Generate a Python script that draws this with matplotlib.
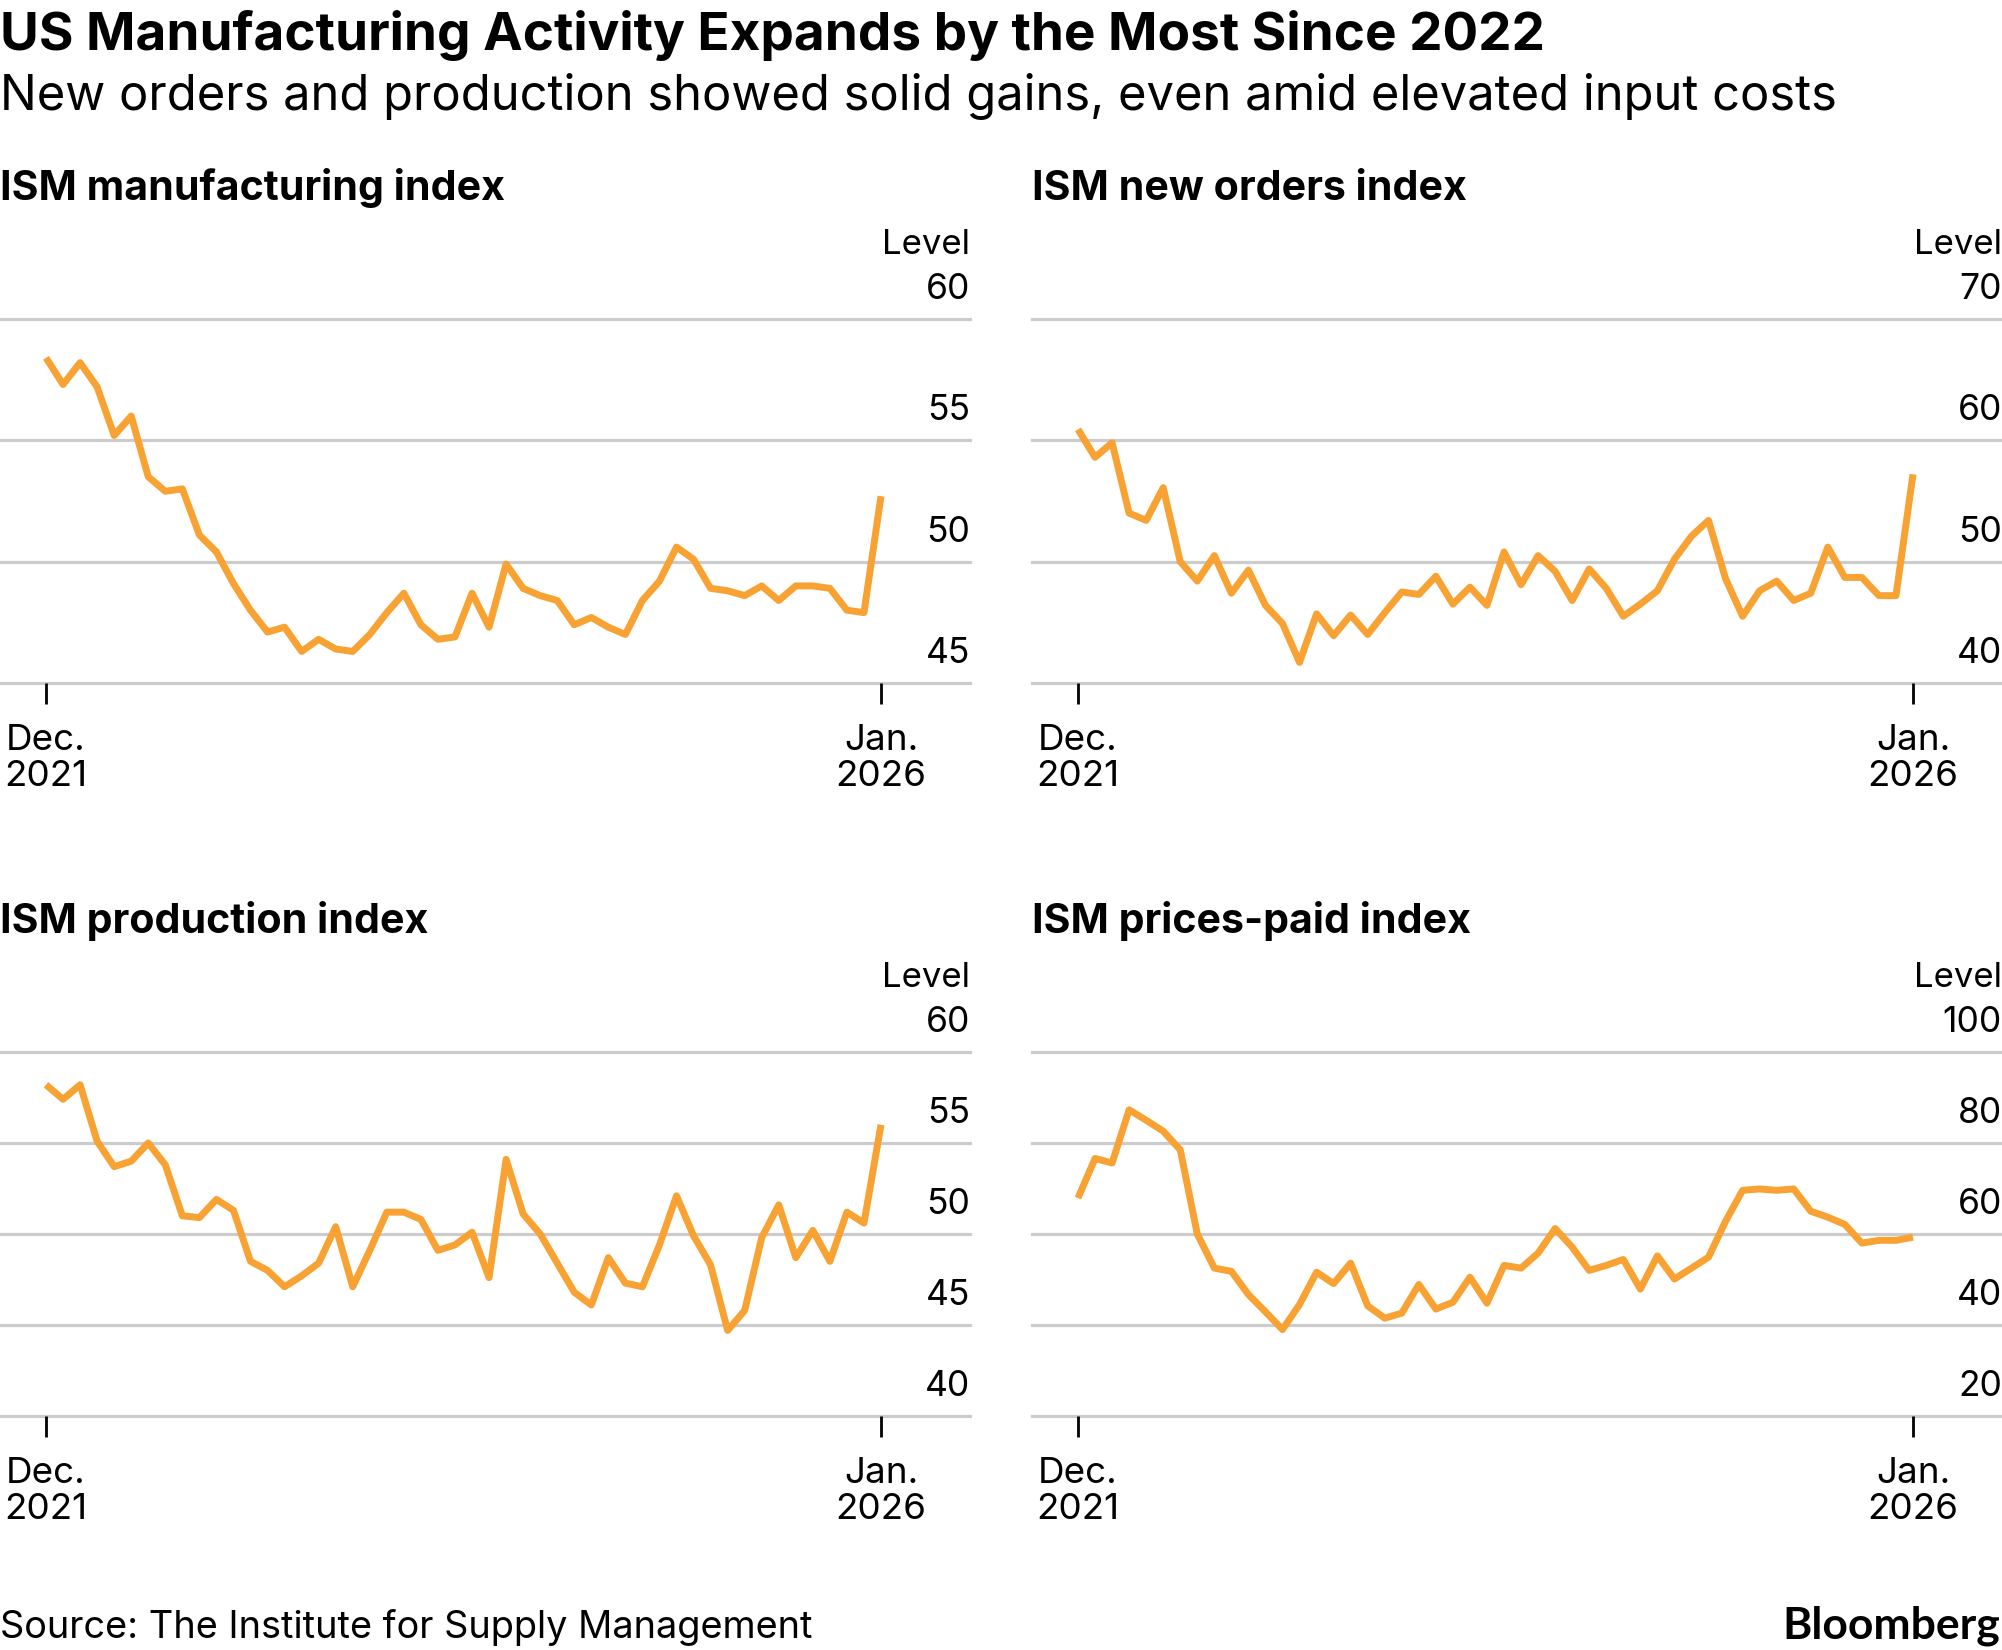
import matplotlib
matplotlib.use("Agg")
import matplotlib.pyplot as plt
import pandas as pd

# ---------------- data ----------------
months = pd.date_range("2021-12-01", "2026-01-01", freq="MS")

manufacturing = [58.4, 57.3, 58.2, 57.2, 55.2, 56.0, 53.5, 52.9, 53.0, 51.1,
                 50.4, 49.1, 48.0, 47.1, 47.3, 46.3, 46.8, 46.4, 46.3, 47.0,
                 47.9, 48.7, 47.4, 46.8, 46.9, 48.7, 47.3, 49.9, 48.9, 48.6,
                 48.4, 47.4, 47.7, 47.3, 47.0, 48.4, 49.2, 50.6, 50.1, 48.9,
                 48.8, 48.6, 49.0, 48.4, 49.0, 49.0, 48.9, 48.0, 47.9, 52.7]

new_orders = [60.9, 58.6, 59.8, 54.0, 53.4, 56.1, 50.0, 48.4, 50.5, 47.4,
              49.3, 46.4, 44.9, 41.7, 45.7, 43.9, 45.6, 44.0, 45.8, 47.5,
              47.3, 48.8, 46.5, 47.9, 46.4, 50.8, 48.1, 50.5, 49.2, 46.8,
              49.4, 47.8, 45.5, 46.5, 47.6, 50.2, 52.1, 53.4, 48.6, 45.5,
              47.6, 48.4, 46.8, 47.4, 51.2, 48.7, 48.7, 47.2, 47.2, 57.2]

production = [58.2, 57.4, 58.2, 55.1, 53.7, 54.0, 55.0, 53.8, 51.0, 50.9,
              51.9, 51.3, 48.5, 48.0, 47.1, 47.7, 48.4, 50.4, 47.1, 49.1,
              51.2, 51.2, 50.8, 49.1, 49.4, 50.1, 47.6, 54.1, 51.1, 50.0,
              48.4, 46.8, 46.1, 48.7, 47.3, 47.1, 49.4, 52.1, 49.9, 48.3,
              44.7, 45.8, 49.8, 51.6, 48.7, 50.2, 48.5, 51.2, 50.6, 56.0]

prices_paid = [67.9, 76.6, 75.6, 87.3, 85.0, 82.6, 78.5, 60.0, 52.5, 51.8,
               46.7, 42.9, 39.0, 44.5, 51.6, 49.1, 53.6, 44.2, 41.5, 42.6,
               48.9, 43.5, 45.0, 50.5, 44.8, 53.1, 52.5, 55.8, 61.2, 57.1,
               52.0, 53.1, 54.4, 47.9, 55.2, 50.1, 52.5, 54.9, 62.8, 69.6,
               69.9, 69.6, 69.9, 65.0, 63.7, 62.1, 58.0, 58.6, 58.6, 59.3]

mfg_ticks = [45, 50, 55, 60]
orders_ticks = [40, 50, 60, 70]
prod_ticks = [40, 45, 50, 55, 60]
prices_ticks = [20, 40, 60, 80, 100]

panel_titles = ["ISM manufacturing index", "ISM new orders index",
                "ISM production index", "ISM prices-paid index"]
x_tick_labels = ["Dec.\n2021", "Jan.\n2026"]
y_unit = "Level"

title = "US Manufacturing Activity Expands by the Most Since 2022"
subtitle = "New orders and production showed solid gains, even amid elevated input costs"
source = "Source: The Institute for Supply Management"
brand = "Bloomberg"

# ---------------- style ----------------
W, H = 2002, 1650
FONT = "Inter"
LINE_COLOR = "#F7A233"
GRID_COLOR = "#CCCCCC"

plt.rcParams["font.family"] = [FONT, "DejaVu Sans"]

fig = plt.figure(figsize=(W / 100, H / 100), dpi=100)

def fx(px):
    return px / W

def fy(px_from_top):
    return 1 - px_from_top / H

fig.text(fx(0), fy(50), title, fontsize=38.2, fontweight="bold", ha="left", va="baseline")
fig.text(fx(0), fy(110), subtitle, fontsize=35.2, ha="left", va="baseline")

panels = [
    (panel_titles[0], manufacturing, mfg_ticks, 0, 319),
    (panel_titles[1], new_orders, orders_ticks, 1032, 319),
    (panel_titles[2], production, prod_ticks, 0, 1052),
    (panel_titles[3], prices_paid, prices_ticks, 1032, 1052),
]

AX_W = 970
AX_H = 364
DATA_LEFT = 46
DATA_SPAN = 835
n = len(months)
step = DATA_SPAN / (n - 1)

for name, values, ticks, left, top in panels:
    ax = fig.add_axes([fx(left), fy(top + AX_H), AX_W / W, AX_H / H])
    ax.set_xlim(-DATA_LEFT / step, (AX_W - DATA_LEFT) / step)
    ax.set_ylim(ticks[0], ticks[-1])
    for s in ax.spines.values():
        s.set_visible(False)
    for t in ticks:
        ax.axhline(t, color=GRID_COLOR, lw=2.3, zorder=1, clip_on=False)
        ax.annotate(str(t), xy=(1.0, t), xycoords=("axes fraction", "data"),
                    xytext=(0, 20), textcoords="offset pixels",
                    ha="right", va="baseline", fontsize=25.5)
    ax.annotate(y_unit, xy=(1.0, 1.0), xycoords="axes fraction",
                xytext=(0, 65), textcoords="offset pixels",
                ha="right", va="baseline", fontsize=25)
    ax.plot(range(n), values, color=LINE_COLOR, lw=5.0, zorder=3,
            solid_joinstyle="round", solid_capstyle="butt", clip_on=False)
    ax.set_yticks([])
    ax.set_xticks([0, n - 1])
    ax.set_xticklabels([])
    ax.tick_params(axis="x", length=15, width=2.0, color="black", direction="out", pad=0)
    for xi, lab in zip([0, n - 1], x_tick_labels):
        ax.annotate(lab, xy=(xi, 0), xycoords=("data", "axes fraction"),
                    xytext=(0, -41), textcoords="offset pixels",
                    ha="center", va="top", fontsize=26.5, linespacing=1.12)
    fig.text(fx(left), fy(top - 119), name, fontsize=29.6, fontweight="bold",
             ha="left", va="baseline")

fig.text(fx(0), fy(1638), source, fontsize=27.3, ha="left", va="baseline")
fig.text(fx(W - 2), fy(1638), brand, fontsize=32, fontweight="bold",
         ha="right", va="baseline", family=["Lato", "DejaVu Sans"])

fig.savefig("out.png", dpi=100)
